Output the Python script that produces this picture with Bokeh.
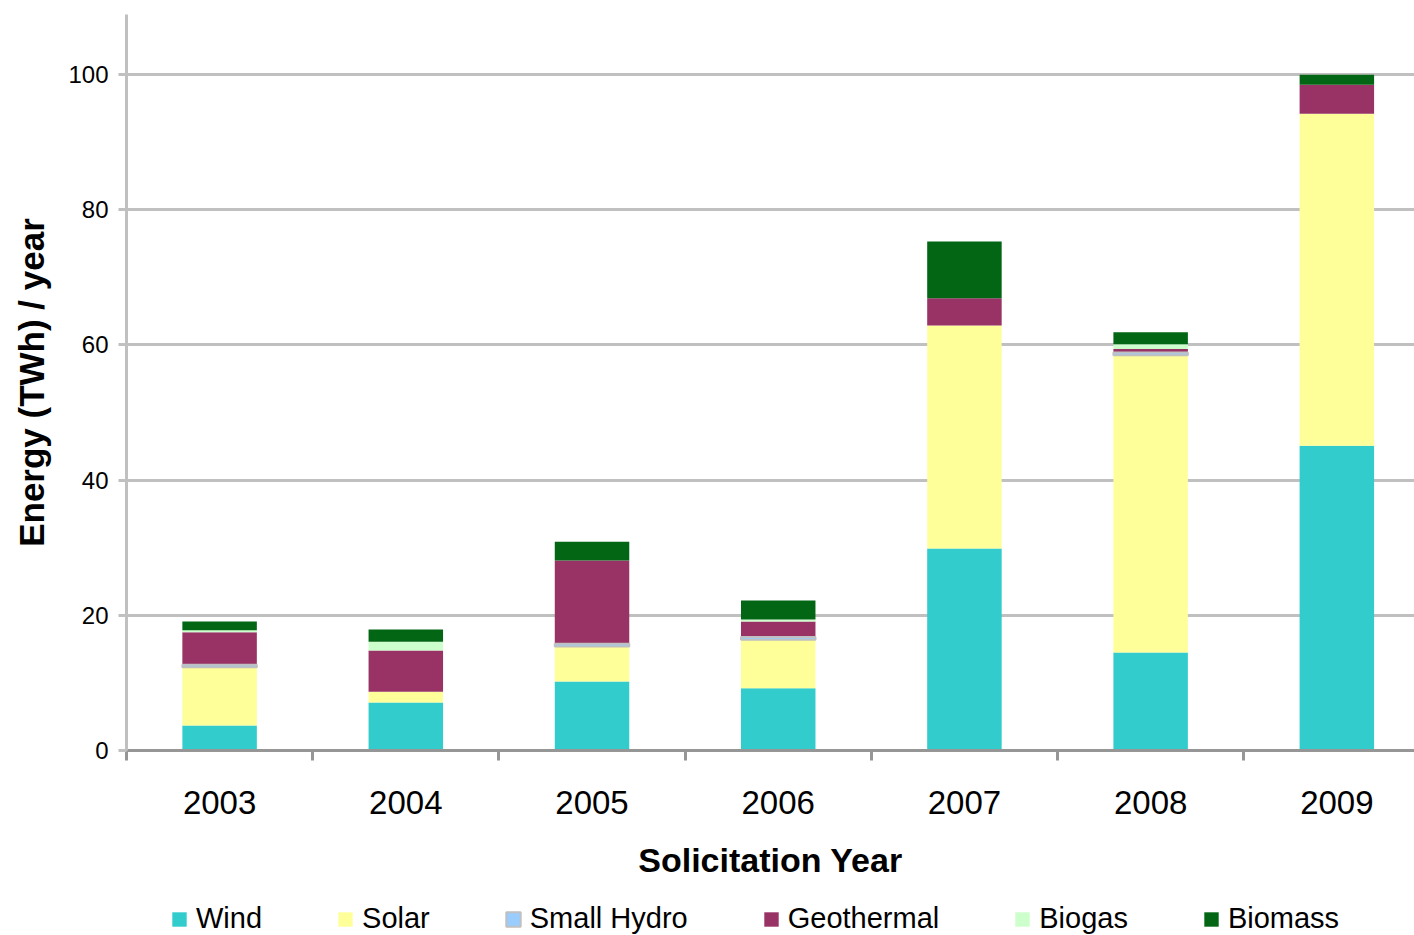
import numpy as np
from bokeh.plotting import figure
from bokeh.layouts import column
from bokeh.models import (Range1d, FixedTicker, Legend, LegendItem, ColumnDataSource)
from bokeh.embed import file_html
from bokeh.resources import INLINE

# Annual energy by technology for each solicitation year (TWh / year)
years = ["2003", "2004", "2005", "2006", "2007", "2008", "2009"]
wind = [3.7, 7.1, 10.2, 9.2, 29.9, 14.5, 45.1]
solar = [8.6, 1.6, 5.2, 7.2, 33.0, 44.0, 49.1]
small_hydro = [0.4, 0.0, 0.4, 0.4, 0.0, 0.4, 0.0]
geothermal = [4.8, 6.1, 12.3, 2.3, 4.0, 0.5, 4.3]
biogas = [0.3, 1.3, 0.0, 0.3, 0.0, 0.7, 0.0]
biomass = [1.3, 1.8, 2.8, 2.8, 8.4, 1.8, 1.5]

series_names = ["Wind", "Solar", "Small Hydro", "Geothermal", "Biogas", "Biomass"]
series_colors = ["#33CCCC", "#FFFF99", "#99CCFF", "#993366", "#CCFFCC", "#036615"]
y_ticks = [0, 20, 40, 60, 80, 100]

FONT = "Liberation Sans"
GRID = "#C0C0C0"
AXIS_DARK = "#969696"

values = np.array([wind, solar, small_hydro, geothermal, biogas, biomass], dtype=float)
tops = np.cumsum(values, axis=0)
bottoms = tops - values
centers = np.arange(len(years)) + 0.5


def bar_style(name, color):
    if name == "Small Hydro":
        return dict(fill_color=color, line_color=GRID, line_width=2)
    return dict(fill_color=color, line_color=None)


p = figure(
    frame_width=1288, frame_height=736,
    x_range=Range1d(0, 6.917), y_range=Range1d(0, 108.9),
    min_border_left=126, min_border_right=0, min_border_top=14, min_border_bottom=145,
    toolbar_location=None, output_backend="svg",
)
p.outline_line_color = None
p.background_fill_color = "white"
p.border_fill_color = "white"

# stacked bars, one renderer per technology
draw_order = [0, 1, 3, 4, 5, 2]  # small hydro last so its outline stays visible
for i in draw_order:
    name = series_names[i]
    keep = values[i] > 0 if name == "Small Hydro" else np.ones(len(years), dtype=bool)
    src = ColumnDataSource(dict(x=centers[keep], bottom=bottoms[i][keep], top=tops[i][keep]))
    p.vbar(x="x", bottom="bottom", top="top", width=0.4, source=src,
           **bar_style(name, series_colors[i]))

# x axis: labels at category centres, ticks at category boundaries
xa = p.xaxis[0]
xa.ticker = FixedTicker(ticks=list(centers), minor_ticks=list(range(len(years))))
xa.major_label_overrides = {float(c): y for c, y in zip(centers, years)}
xa.major_tick_out = 0
xa.major_tick_in = 0
xa.minor_tick_out = 10
xa.minor_tick_in = 0
xa.minor_tick_line_color = AXIS_DARK
xa.minor_tick_line_width = 3
xa.axis_line_color = AXIS_DARK
xa.axis_line_width = 3
xa.major_label_text_font = FONT
xa.major_label_text_font_size = "33px"
xa.major_label_text_color = "black"
xa.major_label_standoff = 30
xa.axis_label = "Solicitation Year"
xa.axis_label_text_font = FONT
xa.axis_label_text_font_size = "34px"
xa.axis_label_text_font_style = "bold"
xa.axis_label_text_color = "black"
xa.axis_label_standoff = 24

ya = p.yaxis[0]
ya.ticker = FixedTicker(ticks=y_ticks, minor_ticks=[])
ya.major_tick_out = 8
ya.major_tick_in = 0
ya.major_tick_line_color = GRID
ya.major_tick_line_width = 3
ya.minor_tick_out = 0
ya.minor_tick_in = 0
ya.axis_line_color = GRID
ya.axis_line_width = 3
ya.major_label_text_font = FONT
ya.major_label_text_font_size = "24px"
ya.major_label_text_color = "black"
ya.major_label_standoff = 10
ya.axis_label = "Energy (TWh) / year"
ya.axis_label_text_font = FONT
ya.axis_label_text_font_size = "35px"
ya.axis_label_text_font_style = "bold"
ya.axis_label_text_color = "black"
ya.axis_label_standoff = 14

p.xgrid.visible = False
p.ygrid.ticker = FixedTicker(ticks=y_ticks, minor_ticks=[])
p.ygrid.grid_line_color = GRID
p.ygrid.grid_line_width = 3

# legend strip underneath the chart; swatch renderers are hidden, only their legend entries show
lg = figure(
    frame_width=1414, frame_height=40,
    x_range=Range1d(0, 1), y_range=Range1d(0, 1),
    min_border_left=0, min_border_right=0, min_border_top=0, min_border_bottom=0,
    x_axis_location=None, y_axis_location=None,
    toolbar_location=None, output_backend="svg",
)
lg.outline_line_color = None
lg.background_fill_color = "white"
lg.border_fill_color = "white"
lg.xgrid.visible = False
lg.ygrid.visible = False
items = []
for name, color in zip(series_names, series_colors):
    src = ColumnDataSource(dict(x=[0.5], bottom=[5.0], top=[6.0]))
    r = lg.vbar(x="x", bottom="bottom", top="top", width=0.1, source=src,
                **bar_style(name, color))
    r.visible = False
    items.append(LegendItem(label=name, renderers=[r]))

legend = Legend(
    items=items, orientation="horizontal", location=(170, 0),
    glyph_width=18, glyph_height=18, label_standoff=8, spacing=74,
    padding=0, margin=0, click_policy="none",
    label_text_font=FONT, label_text_font_size="29px", label_text_color="black",
    background_fill_alpha=0, border_line_alpha=0,
)
lg.add_layout(legend)

layout = column(p, lg, spacing=0)
open("out.html", "w").write(file_html(layout, INLINE))
